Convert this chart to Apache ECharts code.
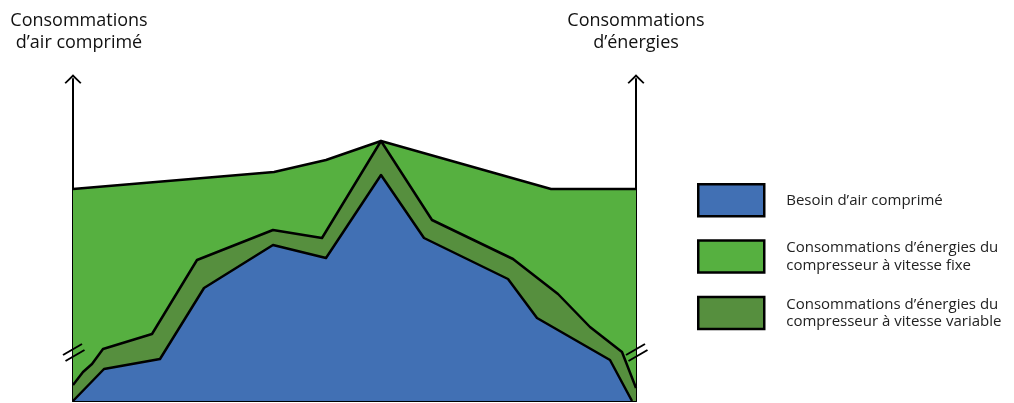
<!DOCTYPE html>
<html>
<head>
<meta charset="utf-8">
<script src="https://cdn.jsdelivr.net/npm/echarts@6/dist/echarts.min.js"></script>
<style>
  html, body { margin: 0; padding: 0; background: #fff; }
  #chart { width: 1014px; height: 403px; }
</style>
</head>
<body>
<div id="chart"></div>
<script>
// Schematic profile over time (arbitrary units), each series as [time, level] pairs
const fixedSpeedEnergy = [[0, 212], [201, 229], [253, 241], [308, 260], [478, 212], [563, 212]];
const variableSpeedEnergy = [[0, 16], [10, 29], [19, 37], [30, 52], [79, 67], [124, 141], [200, 171], [249, 163], [308, 260], [359, 181], [440, 142], [485, 107], [517, 74], [549, 49], [563, 13]];
const airDemand = [[0, 0], [31, 32], [87, 42], [131, 113], [200, 156], [253, 143], [308, 226], [351, 163], [435, 122], [464, 83], [537, 41], [559, 0]];

const seriesNames = [
  'Besoin d\u2019air comprimé',
  'Consommations d\u2019énergies du\ncompresseur à vitesse fixe',
  'Consommations d\u2019énergies du\ncompresseur à vitesse variable'
];
const leftAxisTitle = 'Consommations\nd\u2019air comprimé';
const rightAxisTitle = 'Consommations\nd\u2019énergies';

const FONT = 'Open Sans';
const colors = { blue: '#4170b4', green: '#56b040', darkGreen: '#568f3e' };

// open chevron arrowhead for the axis ends
const chevron = 'path://M0,10 L10,0 L20,10 L18.4,11.4 L10,3.2 L1.6,11.4 Z';

function areaSeries(name, data, color, z) {
  return {
    name: name,
    type: 'line',
    data: data,
    z: z,
    showSymbol: false,
    symbol: 'none',
    silent: true,
    lineStyle: { color: '#000', width: 2.5, join: 'round' },
    itemStyle: { color: color, borderColor: '#000', borderWidth: 2 },
    areaStyle: { color: color, opacity: 1, origin: 'start' }
  };
}

function yAxisDef(position, title, titlePadding) {
  return {
    type: 'value',
    position: position,
    min: 0,
    max: 322,
    name: title,
    nameLocation: 'end',
    nameGap: 25,
    nameTextStyle: {
      fontFamily: FONT, fontSize: 18, fontWeight: 500, color: '#111',
      align: 'center', lineHeight: 22, padding: titlePadding
    },
    axisLine: {
      show: true,
      lineStyle: { color: '#000', width: 2 },
      symbol: ['none', chevron],
      symbolSize: [17, 10],
      symbolOffset: [0, 0]
    },
    axisTick: { show: false },
    axisLabel: { show: false },
    splitLine: { show: false }
  };
}

const chart = echarts.init(document.getElementById('chart'), null, { renderer: 'canvas' });

chart.setOption({
  backgroundColor: '#fff',
  animation: false,
  grid: { left: 73, right: 378, top: 79, bottom: 2, containLabel: false, outerBoundsMode: 'none' },
  xAxis: {
    type: 'value',
    min: 0,
    max: 563,
    axisLine: { show: true, onZero: false, lineStyle: { color: '#000', width: 2 } },
    axisTick: { show: false },
    axisLabel: { show: false },
    splitLine: { show: false }
  },
  yAxis: [
    yAxisDef('left', leftAxisTitle, [0, 0, 0, 12]),
    yAxisDef('right', rightAxisTitle, [0, 0, 0, 0])
  ],
  legend: {
    orient: 'vertical',
    left: 692,
    top: 178,
    itemWidth: 66,
    itemHeight: 32,
    itemGap: 21.5,
    icon: 'rect',
    selectedMode: false,
    data: seriesNames,
    itemStyle: { borderColor: '#000', borderWidth: 2.5 },
    textStyle: { fontFamily: FONT, fontSize: 15, color: '#222', lineHeight: 17.5, padding: [0, 0, 0, 17] }
  },
  series: [
    areaSeries(seriesNames[1], fixedSpeedEnergy, colors.green, 1),
    areaSeries(seriesNames[2], variableSpeedEnergy, colors.darkGreen, 2),
    areaSeries(seriesNames[0], airDemand, colors.blue, 3)
  ]
});

// axis-break marks "//" on both vertical axes, placed relative to the axes
function breakMarks(xVal) {
  const p = chart.convertToPixel({ xAxisIndex: 0, yAxisIndex: 0 }, [xVal, 50]);
  const x = p[0], y = p[1];
  const seg = (dx, dy) => ({
    type: 'line',
    z: 100,
    shape: { x1: x - 10 + dx, y1: y + 5 + dy, x2: x + 9 + dx, y2: y - 6 + dy },
    style: { stroke: '#000', lineWidth: 2 }
  });
  return [seg(0, -1), seg(2.5, 5)];
}

chart.setOption({
  graphic: [].concat(breakMarks(0), breakMarks(563))
});
</script>
</body>
</html>
